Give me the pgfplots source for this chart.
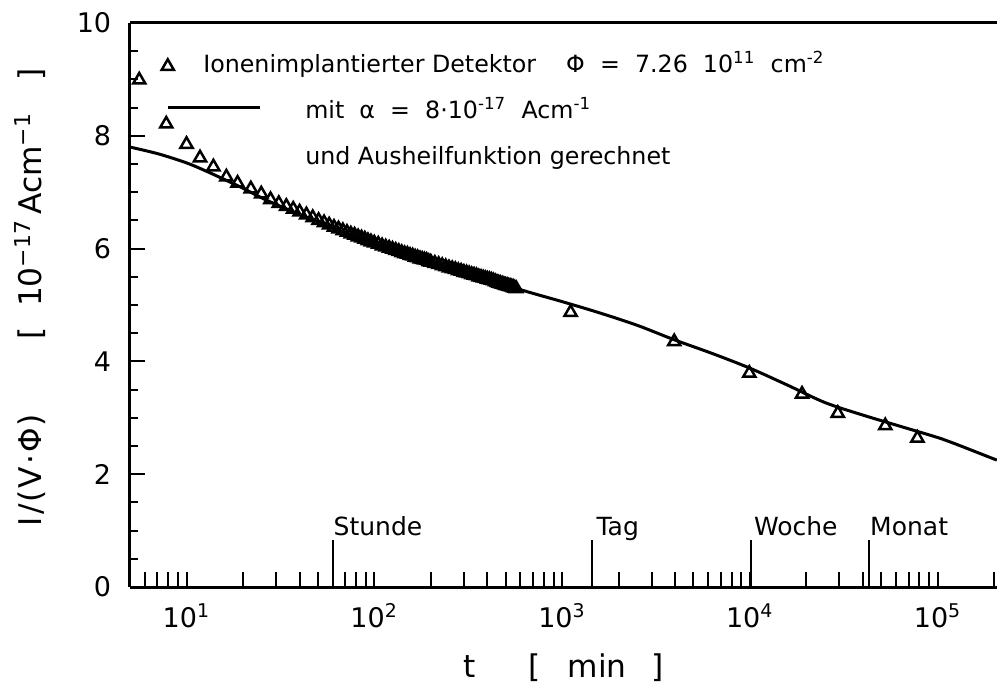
\documentclass[border=0pt]{standalone}
\usepackage{fontspec}
\setmainfont{DejaVu Sans}
\usepackage{pgfplots}
\pgfplotsset{compat=1.18}
\pgfplotsset{
  my tri legend/.style={legend image code/.code={\draw[##1] plot coordinates {(0pt,0pt)};}},
  my curve legend/.style={legend image code/.code={\draw[##1] (0pt,2pt) -- (36.8pt,2pt); \path[draw=none] (0pt,0pt) -- (55pt,0pt);}},
}

\begin{document}
\begin{tikzpicture}
\begin{axis}[
  name=ax,
  scale only axis,
  width=346.8pt, height=225.6pt,
  xmode=log,
  xmin=5, xmax=2.07e5,
  ymin=0, ymax=10,
  clip=false,
  axis lines=left,
  axis line style={-, line width=1.2pt},
  tick align=inside,
  major tick length=6pt,
  minor tick length=3.2pt,
  tick style={line width=0.8pt, black},
  xtick={6,7,8,9,10,20,30,40,50,60,70,80,90,100,200,300,400,500,600,700,800,900,1000,2000,3000,4000,5000,6000,7000,8000,9000,10000,20000,30000,40000,50000,60000,70000,80000,90000,100000,200000},
  xticklabels={,,,,10\textsuperscript{1},,,,,,,,,10\textsuperscript{2},,,,,,,,,10\textsuperscript{3},,,,,,,,,10\textsuperscript{4},,,,,,,,,10\textsuperscript{5},},
  ytick={0,2,4,6,8,10},
  minor y tick num=3,
  /pgf/number format/assume math mode=true,
  ticklabel style={font=\fontsize{10.8}{12}\selectfont},
  xticklabel style={yshift=-3pt},
  yticklabel style={xshift=-4pt},
  xlabel={t\hspace{21pt}[\hspace{11pt}min\hspace{10pt}]},
  ylabel={I\kern0.8pt/\kern0.8pt(\kern0.8pt V\kern0.8pt·\kern0.8ptΦ\kern0.8pt)\hspace{30pt}[\hspace{8pt}10\textsuperscript{−17}\hspace{2pt}Acm\textsuperscript{−1}\hspace{13pt}]},
  label style={font=\fontsize{12.5}{14}\selectfont},
  xlabel style={at={(axis description cs:0.384,-0.1436)}, anchor=west, inner sep=0pt},
  ylabel style={at={(axis description cs:-0.1153,0.514)}, anchor=center},
  legend cell align=left,
  legend style={draw=none, fill=none, at={(axis description cs:0.036,0.944)}, anchor=north west,
    inner sep=0pt, row sep=9.4pt, font=\fontsize{9.5}{11}\selectfont,
    nodes={inner sep=0pt, text height=7pt, text depth=2pt}},
]
% Messwerte
\addplot[only marks, mark=triangle, mark size=2.8pt, mark options={line width=1pt, black}, my tri legend]
  table {
t y
5.6 8.99
7.8 8.21
10 7.85
11.8 7.61
13.9 7.45
16.3 7.27
18.7 7.16
22 7.06
25 6.97
28 6.87
31 6.80
34 6.75
37 6.70
40 6.65
43.5 6.60
47 6.55
50.5 6.50
54 6.46
57.5 6.42
61 6.38
64.5 6.35
68 6.32
71.5 6.29
75 6.26
78.5 6.24
82 6.21
85.5 6.19
89 6.17
92.5 6.14
96 6.12
100 6.10
105 6.08
110 6.05
115 6.03
120 6.01
125 5.99
130 5.97
135 5.95
140 5.93
145 5.91
150 5.90
155 5.88
160 5.87
165 5.85
170 5.84
175 5.82
180 5.81
185 5.80
190 5.79
195 5.77
200 5.76
210 5.74
220 5.72
230 5.70
240 5.68
250 5.66
260 5.645
270 5.63
280 5.61
290 5.60
300 5.58
310 5.57
320 5.555
330 5.54
340 5.53
350 5.52
360 5.50
370 5.49
380 5.48
390 5.47
400 5.46
410 5.45
420 5.44
430 5.43
440 5.415
450 5.40
460 5.39
470 5.38
480 5.37
490 5.36
500 5.35
510 5.345
520 5.335
530 5.325
540 5.32
550 5.31
560 5.30
570 5.29
1110 4.87
3955 4.35
9930 3.79
18960 3.42
29380 3.08
52600 2.86
78000 2.64
};
\addlegendentry{\hspace*{-40.8pt}Ionenimplantierter Detektor\hspace{12pt}Φ\ \ =\ \ 7.26\ \ 10\textsuperscript{11}\ \ cm\textsuperscript{-2}}
% Rechnung
\addplot[black, line width=1.2pt, smooth, mark=none, my curve legend]
  table {
t y
5 7.80
7.08 7.68
10 7.52
12.6 7.38
15.8 7.23
20 7.07
25.1 6.90
31.6 6.75
39.8 6.61
63.1 6.34
100 6.10
158 5.87
251 5.66
398 5.46
631 5.25
1000 5.06
1585 4.86
2512 4.64
3981 4.38
6310 4.14
10000 3.88
15850 3.58
25120 3.27
39810 3.05
63100 2.85
100000 2.65
125900 2.53
158500 2.40
206500 2.25
};
\addlegendentry{mit\ \ α\ \ =\ \ 8·10\textsuperscript{-17}\ \ Acm\textsuperscript{-1}}
\addlegendimage{empty legend}
\addlegendentry{und Ausheilfunktion gerechnet}

\draw[line width=1.2pt] (rel axis cs:0,1) -- (rel axis cs:1,1);
\begin{scope}[line width=0.8pt, every node/.style={font=\fontsize{10}{11}\selectfont, anchor=base west, inner sep=0pt}]
\draw (axis cs:60,0) -- (axis cs:60,0.833) node[yshift=2pt] {Stunde};
\draw (axis cs:1440,0) -- (axis cs:1440,0.833) node[xshift=1.5pt, yshift=2pt] {Tag};
\draw (axis cs:10080,0) -- (axis cs:10080,0.833) node[xshift=1pt, yshift=2pt] {Woche};
\draw (axis cs:43200,0) -- (axis cs:43200,0.833) node[yshift=2pt] {Monat};
\end{scope}
\end{axis}
\pgfresetboundingbox
\path ([xshift=-52pt,yshift=-38.4pt]ax.south west) rectangle ([yshift=9.2pt]ax.north east);
\end{tikzpicture}
\end{document}
